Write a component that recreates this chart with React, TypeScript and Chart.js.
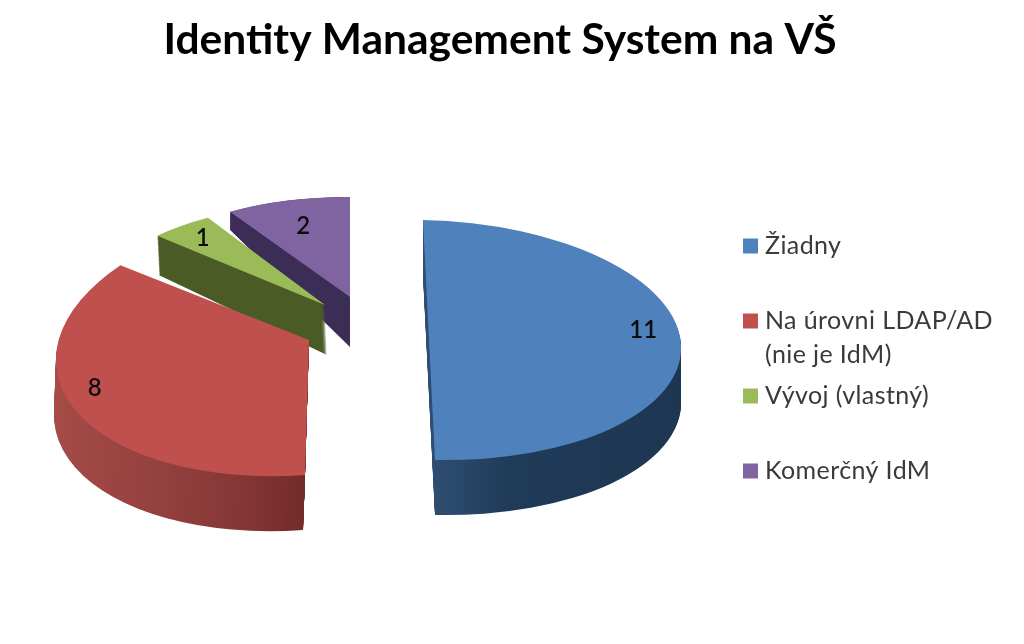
import React, { useEffect, useRef } from "react";
import { Chart, registerables } from "chart.js";

Chart.register(...registerables);

const categories = ["Žiadny", ["Na úrovni LDAP/AD", "(nie je IdM)"], "Vývoj (vlastný)", "Komerčný IdM"];
const values = [11, 8, 1, 2];
const topColors = ["#4f81bd", "#c0504d", "#9bbb59", "#8064a2"];
const titleText = "Identity Management System na VŠ";

// wall shading, [position along the slice's horizontal radius (-1..1), colour]
const wallStops: [number, string][][] = [
  [[-1, "#2e4d70"], [0, "#2e4d70"], [0.3, "#203b58"], [1, "#1d3652"]],
  [[-1, "#a54b48"], [-0.55, "#93403e"], [-0.2, "#823533"], [0, "#722c2a"], [1, "#722c2a"]],
  [[-1, "#4b5b26"], [1, "#4b5b26"]],
  [[-1, "#3b2d55"], [1, "#3b2d55"]],
];

// 3-D projection of each exploded slice: apex position and projected unit vectors
const projection = [
  { ex: 429, ey: 340, a: 252, b: 6, c: 5, d: 120, wx: 0, wy: 55, grow: 1 },
  { ex: 309, ey: 340, a: 253, b: -4, c: -18, d: 135, wx: -2, wy: 55, grow: 1 },
  { ex: 325, ey: 305, a: 229, b: -8, c: 4, d: 101, wx: 2, wy: 50, grow: 1.16 },
  { ex: 350, ey: 297, a: 222, b: 0, c: 2, d: 100, wx: 0, wy: 50, grow: 1.38 },
];
const labelPlace = [
  { f: 0.85, nx: 0, ny: -14 },
  { f: 0.95, nx: 6, ny: -21 },
  { f: 0.85, nx: 0, ny: 0 },
  { f: 0.75, nx: 0, ny: 2 },
];
const drawOrder = [3, 2, 1, 0];
const legendLayout = { swatchX: 743, swatch: 15, textX: 765, firstY: 246, rowGap: 75, lineGap: 34 };

const pie3d = {
  id: "pie3d",
  beforeDatasetsDraw(chart: any) {
    const ctx: CanvasRenderingContext2D = chart.ctx;
    const arcs: any[] = chart.getDatasetMeta(0).data;
    const place = (arc: any, p: any, dGrow: number, dx: number, dy: number) => {
      const R = arc.outerRadius;
      ctx.transform(p.a / R, p.c / R, p.b / R, (p.d * dGrow) / R, p.ex + dx, p.ey + dy);
      ctx.translate(-arc.x, -arc.y);
    };
    // walls
    for (const i of drawOrder) {
      const arc = arcs[i];
      const p = projection[i];
      const R = arc.outerRadius;
      const g = ctx.createLinearGradient(arc.x - R, 0, arc.x + R, 0);
      for (const [pos, col] of wallStops[i]) g.addColorStop((pos + 1) / 2, col);
      const orig = arc.options;
      arc.options = Object.create(orig, { backgroundColor: { value: g } });
      const steps = Math.ceil(p.wy);
      for (let s = steps; s >= 1; s--) {
        const t = s / steps;
        ctx.save();
        place(arc, p, 1 + (p.grow - 1) * t, p.wx * t, p.wy * t);
        arc.draw(ctx);
        ctx.restore();
      }
      arc.options = orig;
    }
    // top faces
    for (const i of drawOrder) {
      ctx.save();
      place(arcs[i], projection[i], 1, 0, 0);
      arcs[i].draw(ctx);
      ctx.restore();
    }
    // value labels
    ctx.save();
    ctx.font = "600 24px Lato";
    ctx.fillStyle = "#0d0d0d";
    ctx.textAlign = "center";
    ctx.textBaseline = "middle";
    arcs.forEach((arc, i) => {
      const p = projection[i];
      const l = labelPlace[i];
      const mid = (arc.startAngle + arc.endAngle) / 2;
      const ux = Math.cos(mid) * l.f;
      const uy = Math.sin(mid) * l.f;
      const x = p.ex + p.a * ux + p.b * uy + l.nx;
      const y = p.ey + p.c * ux + p.d * uy + l.ny;
      ctx.fillText(String(values[i]), x, y);
    });
    ctx.restore();
    // legend
    ctx.save();
    ctx.font = "25px Lato";
    (ctx as any).letterSpacing = "0.4px";
    ctx.textAlign = "left";
    ctx.textBaseline = "middle";
    const L = legendLayout;
    categories.forEach((cat, i) => {
      const y = L.firstY + i * L.rowGap;
      ctx.fillStyle = topColors[i];
      ctx.fillRect(L.swatchX, y - L.swatch / 2, L.swatch, L.swatch);
      ctx.fillStyle = "#3a3a3a";
      const lines = Array.isArray(cat) ? cat : [cat];
      lines.forEach((t, k) => ctx.fillText(t, L.textX, y + k * L.lineGap));
    });
    ctx.restore();
    return false;
  },
};

export default function App() {
  const ref = useRef<HTMLCanvasElement>(null);
  useEffect(() => {
    const chart = new Chart(ref.current!, {
      type: "pie",
      plugins: [pie3d],
      data: {
        labels: categories as any,
        datasets: [{ data: values, backgroundColor: topColors, borderWidth: 0 }],
      },
      options: {
        responsive: false,
        animation: false,
        events: [],
        layout: { padding: { right: 24 } },
        plugins: {
          legend: { display: false },
          tooltip: { enabled: false },
          title: {
            display: true,
            text: titleText,
            fullSize: false,
            color: "#000000",
            font: { family: "Lato", size: 42.5, weight: "bold" },
            padding: { top: 15, bottom: 10 },
          },
        },
      } as any,
    });
    return () => chart.destroy();
  }, []);
  return (
    <canvas
      ref={ref}
      width={1024}
      height={644}
      style={{ position: "absolute", left: 0, top: 0, display: "block", background: "#ffffff", filter: "blur(0.4px)" }}
    />
  );
}
